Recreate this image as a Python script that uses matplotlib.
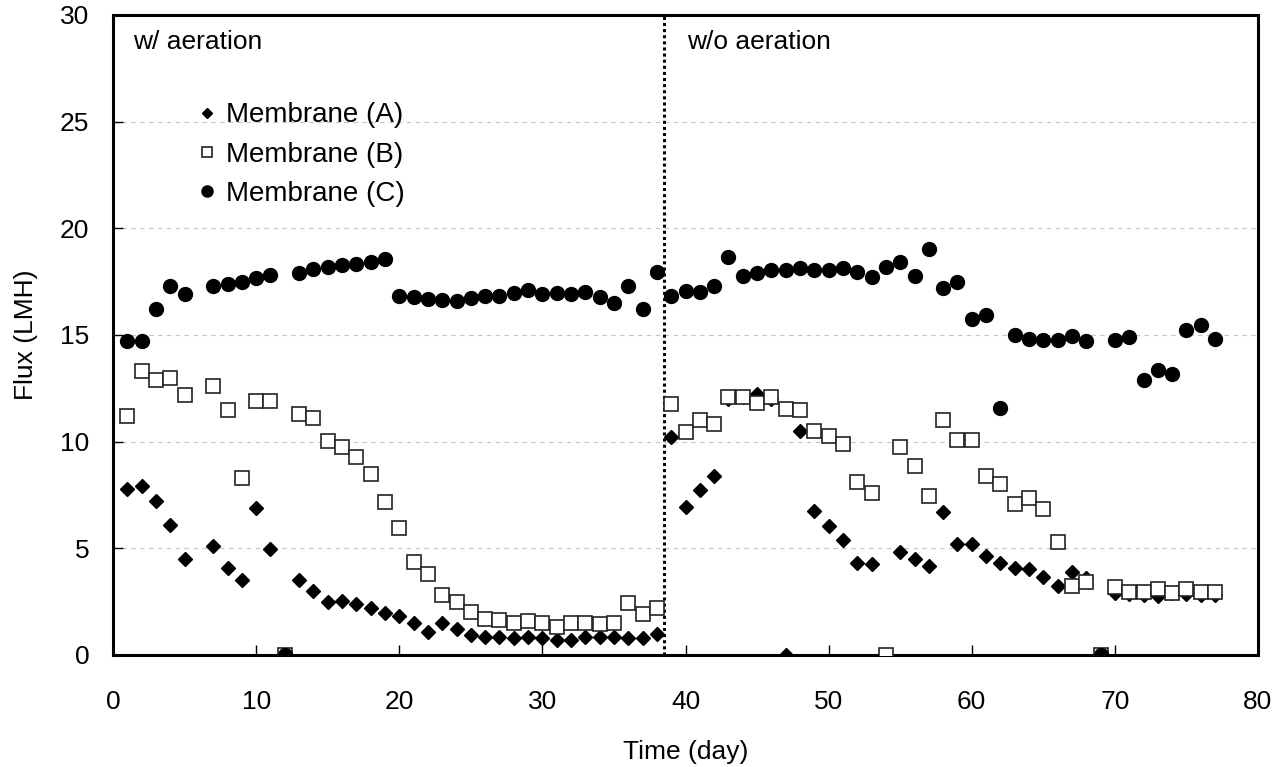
import numpy as np
import matplotlib
matplotlib.use("Agg")
import matplotlib.pyplot as plt

plt.rcParams['font.family'] = ['Liberation Sans', 'DejaVu Sans']

# Daily flux readings (LMH); None = no reading that day
days = list(range(1, 78))
membrane_a = [7.8, 7.9, 7.2, 6.1, 4.5, None, 5.1, 4.1, 3.5, 6.9,
              4.95, 0, 3.5, 3.0, 2.5, 2.55, 2.4, 2.2, 1.95, 1.85,
              1.5, 1.1, 1.5, 1.2, 0.95, 0.85, 0.85, 0.8, 0.85, 0.8,
              0.7, 0.7, 0.85, 0.85, 0.85, 0.8, 0.8, 1.0, 10.2, 6.95,
              7.75, 8.4, 12.0, 12.1, 12.25, 12.0, 0, 10.5, 6.75, 6.05,
              5.4, 4.3, 4.25, 0, 4.85, 4.5, 4.15, 6.7, 5.2, 5.2,
              4.65, 4.3, 4.1, 4.05, 3.65, 3.25, 3.9, 3.6, 0, 2.9,
              2.87, 2.8, 2.77, 2.9, 2.87, 2.83, 2.83]
membrane_b = [11.2, 13.3, 12.9, 13.0, 12.2, None, 12.6, 11.5, 8.3, 11.9,
              11.9, 0, 11.3, 11.1, 10.05, 9.75, 9.3, 8.5, 7.15, 5.95,
              4.35, 3.8, 2.8, 2.5, 2.0, 1.7, 1.65, 1.5, 1.6, 1.5,
              1.3, 1.5, 1.5, 1.45, 1.5, 2.45, 1.9, 2.2, 11.75, 10.45,
              11.0, 10.85, 12.1, 12.1, 11.8, 12.1, 11.55, 11.5, 10.5, 10.25,
              9.9, 8.1, 7.6, 0, 9.75, 8.85, 7.45, 11.0, 10.1, 10.1,
              8.4, 8.0, 7.1, 7.35, 6.85, 5.3, 3.25, 3.43, 0, 3.17,
              2.97, 2.97, 3.09, 2.89, 3.09, 2.97, 2.97]
membrane_c = [14.7, 14.7, 16.2, 17.3, 16.9, None, 17.3, 17.4, 17.5, 17.65,
              17.8, 0, 17.9, 18.1, 18.2, 18.3, 18.35, 18.4, 18.55, 16.85,
              16.8, 16.7, 16.65, 16.6, 16.75, 16.85, 16.85, 16.95, 17.1, 16.9,
              16.95, 16.9, 17.0, 16.8, 16.5, 17.3, 16.2, 17.95, 16.85, 17.05,
              17.0, 17.3, 18.65, 17.75, 17.9, 18.05, 18.05, 18.15, 18.05, 18.05,
              18.15, 17.95, 17.7, 18.2, 18.4, 17.75, 19.05, 17.2, 17.5, 15.75,
              15.95, 11.6, 15.0, 14.8, 14.75, 14.75, 14.95, 14.7, 0, 14.75,
              14.9, 12.9, 13.35, 13.15, 15.25, 15.45, 14.8]
switch_day = 38.5


def as_arr(vals):
    return np.array([np.nan if v is None else v for v in vals], dtype=float)


fig = plt.figure(figsize=(12.75, 7.67), dpi=100)
ax = fig.add_axes([113 / 1275, 1 - 655 / 767, 1145 / 1275, 640 / 767])

ax.plot(days, as_arr(membrane_a), linestyle='none', marker='D', ms=7,
        color='black', label='Membrane (A)', zorder=3)
ax.plot(days, as_arr(membrane_b), linestyle='none', marker='s', ms=9.5,
        markerfacecolor='white', markeredgecolor='#222222', mew=1.2,
        label='Membrane (B)', zorder=4)
ax.plot(days, as_arr(membrane_c), linestyle='none', marker='o', ms=10,
        color='black', label='Membrane (C)', zorder=5)

ax.axvline(switch_day, color='black', linestyle=(0, (1, 1)), linewidth=2.2, zorder=2)

ax.set_xlim(0, 80)
ax.set_ylim(0, 30)
ax.set_xticks(range(0, 81, 10))
ax.set_yticks(range(0, 31, 5))
ax.yaxis.grid(True, color='#c4c4c4', linestyle=(0, (4, 4)), linewidth=0.8)
ax.set_axisbelow(True)

for sp in ax.spines.values():
    sp.set_linewidth(2.2)
ax.tick_params(direction='in', length=7, width=1, labelsize=19)
ax.tick_params(axis='x', pad=25)
ax.tick_params(axis='y', pad=17)

ax.set_xlabel('Time (day)', fontsize=19)
ax.set_ylabel('Flux (LMH)', fontsize=19)
ax.xaxis.set_label_coords(0.5, -0.133)
ax.yaxis.set_label_coords(-0.0655, 0.5)

ax.text(0.0176, 0.977, 'w/ aeration', transform=ax.transAxes,
        ha='left', va='top', fontsize=19)
ax.text(40.1, 29.3, 'w/o aeration', ha='left', va='top', fontsize=19)

ax.legend(loc='upper left', bbox_to_anchor=(0.0755, 0.8635), frameon=False,
          fontsize=20, markerscale=0.8, handlelength=0.55, handletextpad=0.4,
          labelspacing=0.48, borderpad=0, borderaxespad=0)

fig.savefig('out.png', dpi=100)
